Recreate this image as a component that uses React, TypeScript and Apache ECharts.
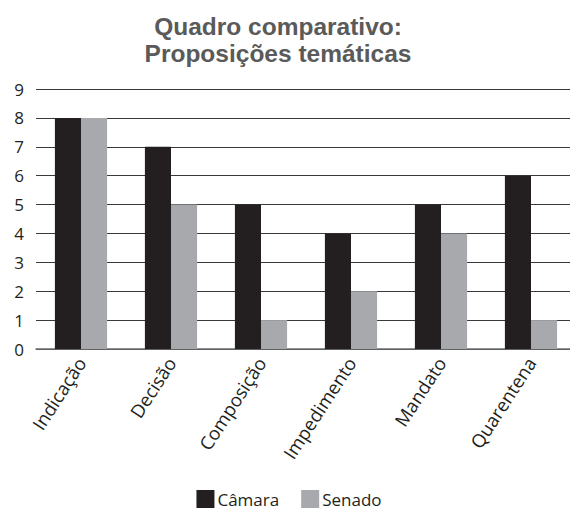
import React, { useEffect, useRef } from "react";
import * as echarts from "echarts";

const categories = ["Indicação", "Decisão", "Composição", "Impedimento", "Mandato", "Quarentena"];
const camara = [8, 7, 5, 4, 5, 6];
const senado = [8, 5, 1, 2, 4, 1];
const seriesNames = ["Câmara", "Senado"];

export default function App() {
  const ref = useRef<HTMLDivElement>(null);
  useEffect(() => {
    const chart = echarts.init(ref.current!, null, { renderer: "svg" });
    chart.setOption({
      animation: false,
      title: {
        text: "Quadro comparativo:\nProposições temáticas",
        left: 273,
        textAlign: "center",
        top: 8,
        textStyle: {
          fontFamily: "Liberation Sans, Arial, sans-serif",
          fontWeight: "bold",
          fontSize: 24.5,
          lineHeight: 27,
          color: "#5a5a5a",
        },
      },
      legend: {
        top: 485,
        left: "center",
        itemWidth: 18,
        itemHeight: 18,
        itemGap: 22,
        icon: "rect",
        textStyle: { fontFamily: "Open Sans, sans-serif", fontSize: 17, color: "#231f20", padding: [0, 0, 0, -2] },
        data: seriesNames,
      },
      grid: { left: 36, right: 2, top: 89, bottom: 173 },
      xAxis: {
        type: "category",
        data: categories,
        axisTick: { show: false },
        axisLine: { lineStyle: { color: "#6d6e71", width: 1.5 } },
        axisLabel: {
          rotate: 57,
          margin: 10,
          fontFamily: "Open Sans, sans-serif",
          fontSize: 18.5,
          color: "#231f20",
        },
      },
      yAxis: {
        type: "value",
        min: 0,
        max: 9,
        interval: 1,
        axisLine: { show: false },
        axisTick: { show: false },
        axisLabel: {
          margin: 12,
          fontFamily: "Open Sans, sans-serif",
          fontSize: 17,
          color: "#231f20",
        },
        splitLine: { lineStyle: { color: "#3a3a3a", width: 1 } },
      },
      series: [
        {
          name: seriesNames[0],
          type: "bar",
          data: camara,
          barGap: "0%",
          barCategoryGap: "42%",
          itemStyle: { color: "#231f20" },
        },
        {
          name: seriesNames[1],
          type: "bar",
          data: senado,
          itemStyle: { color: "#a7a9ac" },
        },
      ],
    });
    return () => chart.dispose();
  }, []);
  return <div ref={ref} style={{ width: 578, height: 522, margin: -8 }} />;
}
